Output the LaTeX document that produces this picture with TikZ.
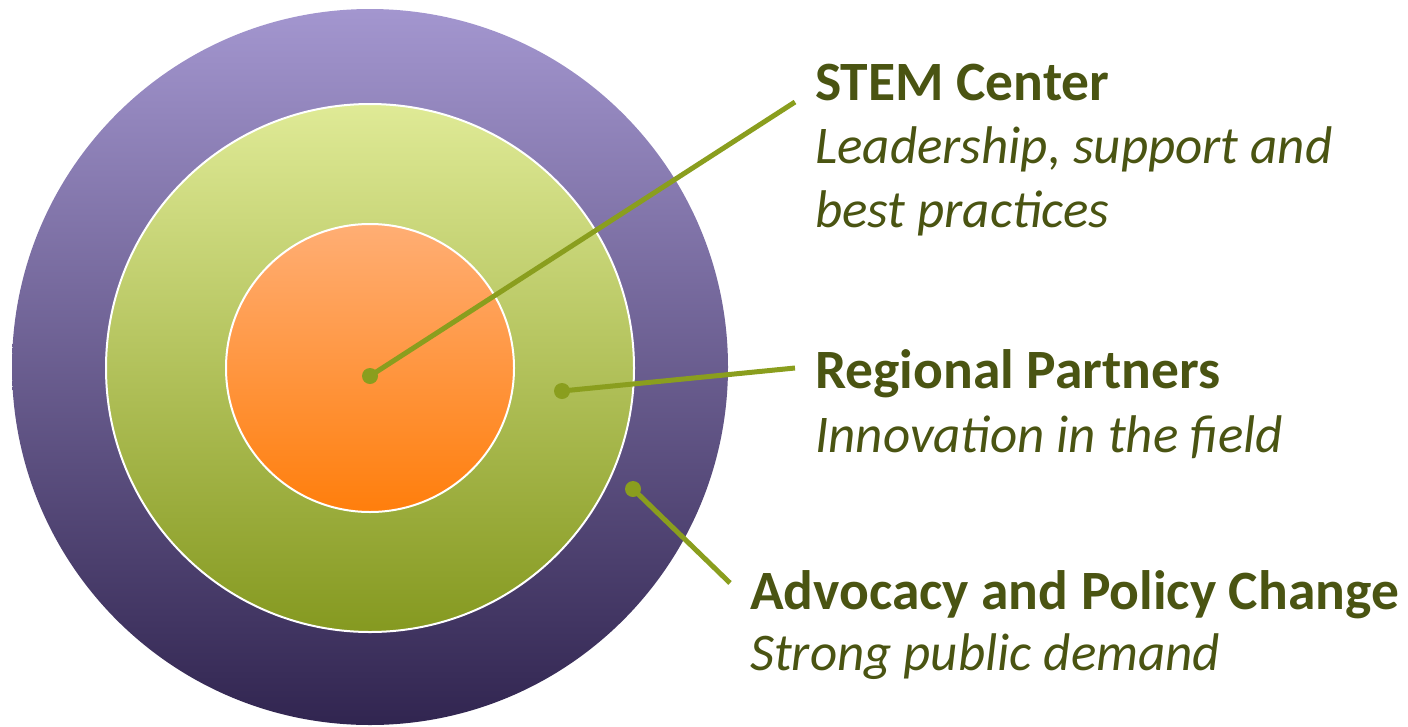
\documentclass[tikz,border=0pt]{standalone}
\usepackage{fontspec}
\setmainfont{Carlito}
\definecolor{txt}{HTML}{4A5412}
\definecolor{lne}{HTML}{8A9E1E}
\definecolor{outTop}{HTML}{A396CF}
\definecolor{outMid}{HTML}{8070A6}
\definecolor{outBot}{HTML}{312550}
\definecolor{midTop}{HTML}{DFEA96}
\definecolor{midBot}{HTML}{859920}
\definecolor{inTop}{HTML}{FFAE74}
\definecolor{inBot}{HTML}{FF7E0C}
\begin{document}
\begin{tikzpicture}[x=1pt,y=-1pt,
  head/.style={anchor=base west,inner sep=0pt,text=txt,font=\fontsize{55.5}{64}\selectfont\bfseries},
  sub/.style={anchor=base west,inner sep=0pt,text=txt,font=\fontsize{53}{64}\selectfont\itshape},
  dot/.style={circle,fill=lne,inner sep=0pt,minimum size=16pt},
  lead/.style={draw=lne,line width=5pt}]
\useasboundingbox (0,0) rectangle (1408,726);
\shade[top color=outTop,middle color=outMid,bottom color=outBot] (370,367) circle (358);
\shade[top color=midTop,bottom color=midBot,draw=white,line width=2pt] (370,368) circle (264);
\shade[top color=inTop,bottom color=inBot,draw=white,line width=2pt] (370,368) circle (144);
\node[dot] (d1) at (370,376) {};
\node[dot] (d2) at (562,391) {};
\node[dot] (d3) at (633,489) {};
\coordinate (e1) at (795,102);
\coordinate (e2) at (795,368);
\coordinate (e3) at (730,583);
\draw[lead] (d1.center) -- (e1);
\draw[lead] (d2.center) -- (e2);
\draw[lead] (d3.center) -- (e3);
\node[head] (h1) at (815,100) {STEM Center};
\node[sub] (s1a) at (815,163) {Leadership, support and};
\node[sub] (s1b) at (815,227) {best practices};
\node[head] (h2) at (815,388) {Regional Partners};
\node[sub] (s2) at (815,452) {Innovation in the field};
\node[head] (h3) at (750,609) {Advocacy and Policy Change};
\node[sub] (s3) at (750,670) {Strong public demand};
\end{tikzpicture}
\end{document}
